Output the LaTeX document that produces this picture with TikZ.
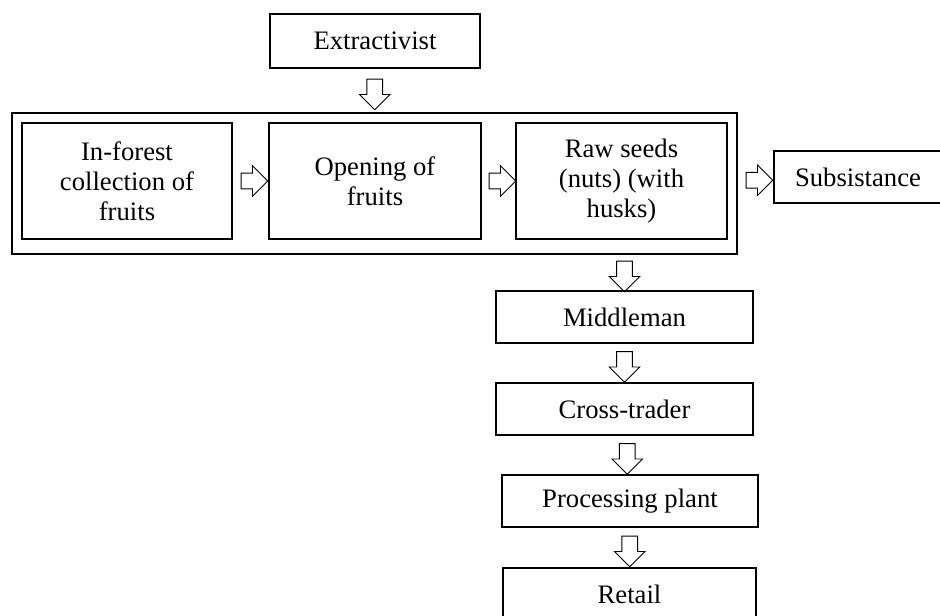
\documentclass[tikz,border=0pt]{standalone}
\usepackage{fontspec}
\setmainfont{Liberation Serif}
\usetikzlibrary{shapes.arrows,calc}

\begin{document}
\begin{tikzpicture}[x=0.75pt,y=-0.75pt,
    box/.style={draw,line width=0.9pt,align=center,inner sep=0pt,font=\fontsize{20}{22.5}\selectfont},
    blockarrow/.style={draw,single arrow,line width=0.6pt,inner xsep=0pt,inner ysep=5.6pt,
        single arrow head extend=5.6pt,minimum height=20pt},
    downarrow/.style={blockarrow,shape border rotate=270,inner xsep=5.6pt,inner ysep=0pt,minimum height=23pt}]
    \useasboundingbox (0,0) rectangle (940,615);
    \clip (0,0) rectangle (940,615);

    % Source
    \node[box,minimum width=157.5pt,minimum height=40.5pt] (ext) at (375,41) {Extractivist};

    % Frame round the three forest steps
    \node[box,minimum width=543.75pt,minimum height=105.75pt] (frame) at (374.5,183.5) {};
    \node[box,minimum width=157.5pt,minimum height=87pt] (col) at (127,181) {In-forest\\collection of\\fruits};
    \node[box,minimum width=159pt,minimum height=87pt] (open) at (375,181) {Opening of\\fruits};
    \node[box,minimum width=158.25pt,minimum height=87pt] (raw) at (621.5,181) {Raw seeds\\(nuts) (with\\husks)};

    % Side output
    \node[box,minimum width=126pt,minimum height=39pt] (subs) at (858,177) {Subsistance};

    % Trade chain
    \node[box,minimum width=192.75pt,minimum height=39pt] (mid) at (624.5,317) {Middleman};
    \node[box,minimum width=192.75pt,minimum height=39pt] (cross) at (624.5,409) {Cross-trader};
    \node[box,minimum width=192pt,minimum height=39pt] (proc) at (630,501) {Processing plant};
    \node[box,minimum width=189.75pt,minimum height=39pt] (retail) at (629.5,594) {Retail};

    % Block arrows
    \node[downarrow] (a1) at ($(ext.south)!0.5!(frame.north)$) {};
    \node[blockarrow] (a2) at ($(col.east)!0.5!(open.west)$) {};
    \node[blockarrow] (a3) at ($(open.east)!0.5!(raw.west)$) {};
    \node[blockarrow] (a4) at ($(frame.east)!0.5!(subs.west)$) {};
    \node[downarrow] (a5) at ($(frame.south -| mid.north)!0.5!(mid.north)$) {};
    \node[downarrow] (a6) at ($(mid.south)!0.5!(cross.north)$) {};
    \node[downarrow] (a7) at ($(cross.south)!0.5!(proc.north)$) {};
    \node[downarrow] (a8) at ($(proc.south)!0.5!(retail.north)$) {};

\end{tikzpicture}
\end{document}
